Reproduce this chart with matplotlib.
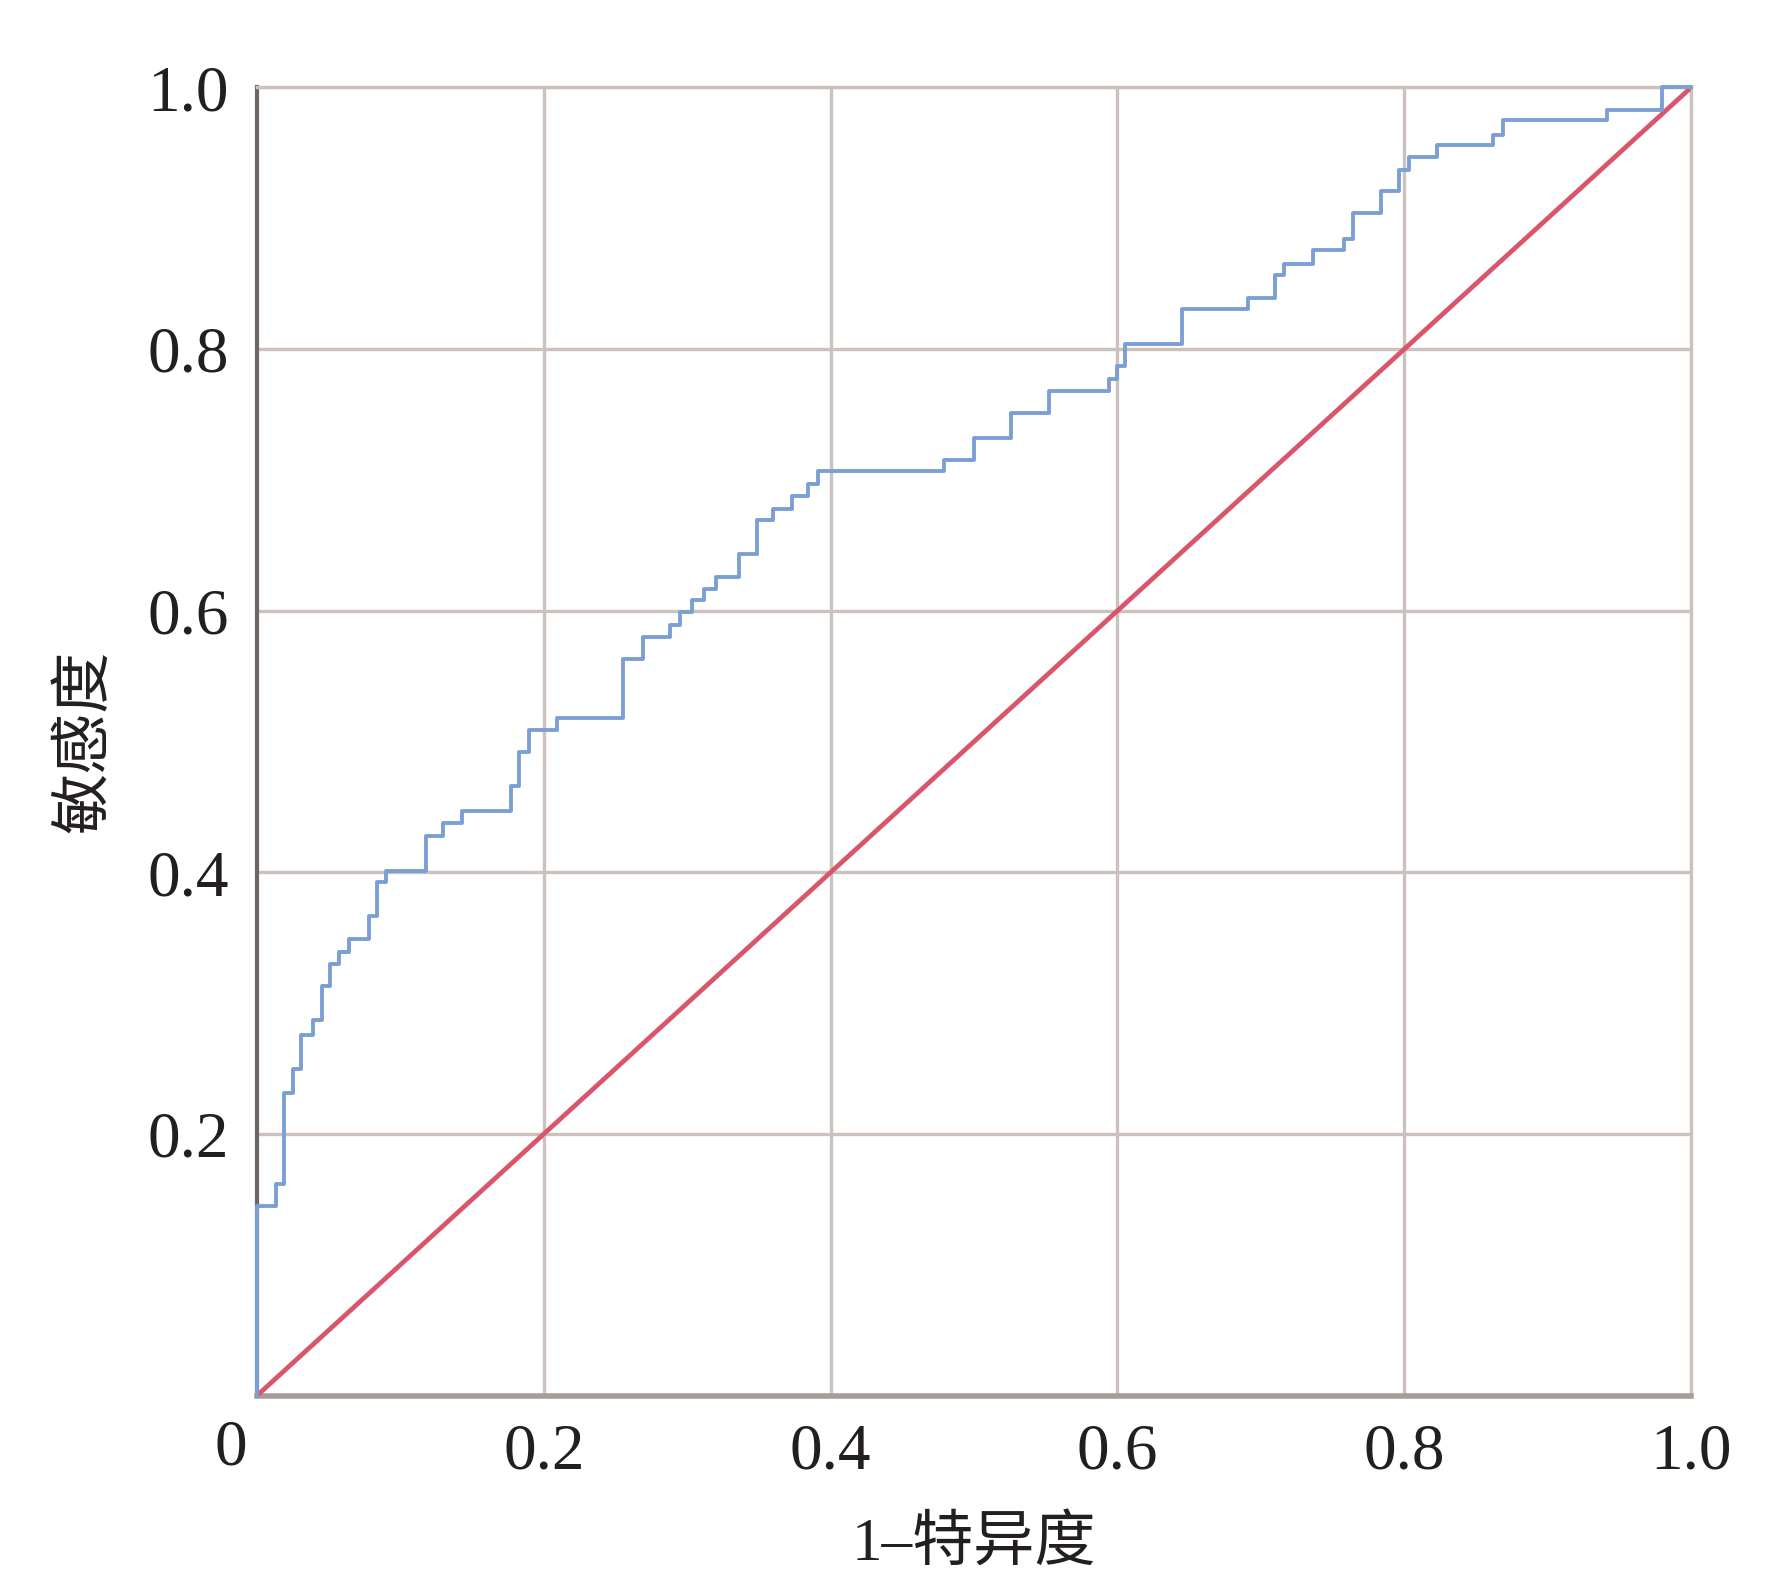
import matplotlib
matplotlib.use("Agg")
import matplotlib.pyplot as plt

plt.rcParams['font.family'] = ['Liberation Serif', 'Noto Sans CJK SC']

# ROC curve corner points (1 - specificity, sensitivity)
fpr = [0, 0, 0.013, 0.019, 0.025, 0.031, 0.039, 0.045, 0.051, 0.057,
       0.064, 0.078, 0.084, 0.090, 0.118, 0.130, 0.143, 0.177, 0.183, 0.190,
       0.209, 0.255, 0.269, 0.288, 0.295, 0.303, 0.312, 0.320, 0.336, 0.349,
       0.360, 0.373, 0.384, 0.391, 0.479, 0.500, 0.526, 0.552, 0.594, 0.600,
       0.605, 0.645, 0.691, 0.710, 0.716, 0.736, 0.758, 0.764, 0.784, 0.796,
       0.803, 0.823, 0.862, 0.869, 0.941, 0.980, 1.0]
tpr = [0, 0.145, 0.162, 0.231, 0.250, 0.276, 0.287, 0.313, 0.330, 0.339,
       0.349, 0.367, 0.393, 0.401, 0.428, 0.438, 0.447, 0.466, 0.492, 0.509,
       0.518, 0.563, 0.580, 0.589, 0.599, 0.608, 0.617, 0.626, 0.643, 0.669,
       0.678, 0.688, 0.697, 0.707, 0.715, 0.732, 0.751, 0.768, 0.777, 0.787,
       0.804, 0.831, 0.839, 0.857, 0.865, 0.876, 0.884, 0.904, 0.921, 0.937,
       0.947, 0.956, 0.964, 0.975, 0.983, 1.0, 1.0]

ref_line = [0, 1]
ticks = [0.2, 0.4, 0.6, 0.8, 1.0]
tick_labels = ['0.2', '0.4', '0.6', '0.8', '1.0']

fig = plt.figure(figsize=(17.82, 15.82), dpi=100)
ax = fig.add_axes([0.1442, 0.1178, 0.8048, 0.8269])

grid_c = '#cbc1bd'
ax.set_xlim(0, 1)
ax.set_ylim(0, 1)
ax.set_xticks(ticks)
ax.set_yticks(ticks)
ax.set_xticklabels(tick_labels)
ax.set_yticklabels(tick_labels)
ax.tick_params(length=0, labelsize=47, colors='#231f20', pad=20)
ax.grid(True, color=grid_c, linewidth=2.4)
ax.set_axisbelow(True)

for s in ['top', 'right']:
    ax.spines[s].set_color(grid_c)
    ax.spines[s].set_linewidth(2.4)
ax.spines['left'].set_color('#6e6664')
ax.spines['left'].set_linewidth(3)
ax.spines['bottom'].set_color('#a69d9a')
ax.spines['bottom'].set_linewidth(4)

ax.plot(ref_line, ref_line, color='#d9566a', linewidth=3.4, zorder=3)
ax.plot(fpr, tpr, drawstyle='steps-post', color='#7b9fd5', linewidth=2.8,
        zorder=4, clip_on=False)

ax.text(-0.018, -0.018, '0', transform=ax.transAxes, fontsize=47,
        color='#231f20', ha='center', va='top')

ax.set_xlabel('1–特异度', fontsize=44, color='#231f20', labelpad=24)
ax.set_ylabel('敏感度', fontsize=44, color='#231f20', labelpad=24)

fig.savefig('out.png', dpi=100, facecolor='white')
